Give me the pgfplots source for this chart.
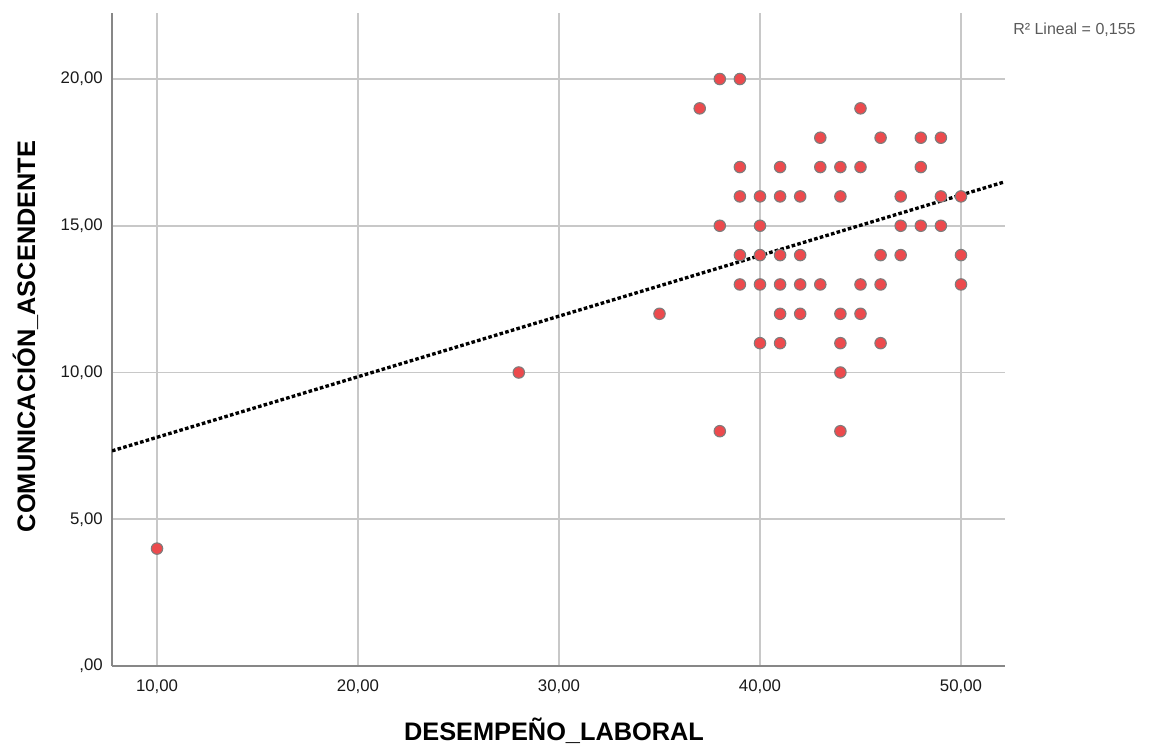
\documentclass[border=0pt]{standalone}
\usepackage{pgfplots}
\pgfplotsset{compat=1.18}
\usepackage{pgfplotstable}
\usepackage{fontspec}
\setmainfont{Liberation Sans}
\definecolor{ptred}{RGB}{236,74,77}
\definecolor{ptedge}{RGB}{125,125,125}
\definecolor{gridc}{RGB}{200,200,200}
\definecolor{axc}{RGB}{135,135,135}
\definecolor{rtxt}{RGB}{90,90,90}

\pgfplotstableread{
x y
10 4
28 10
35 12
37 19
38 20
38 15
38 8
39 20
39 17
39 16
39 14
39 13
40 16
40 15
40 14
40 13
40 11
41 17
41 16
41 14
41 13
41 12
41 11
42 16
42 14
42 13
42 12
43 18
43 17
43 13
44 17
44 16
44 12
44 11
44 10
44 8
45 19
45 17
45 13
45 12
46 18
46 14
46 13
46 11
47 16
47 15
47 14
48 18
48 17
48 15
49 18
49 16
49 15
50 16
50 14
50 13
}\pts

\pgfplotstableread{
x y
7.76 7.33
52.19 16.50
}\fitline

\begin{document}
\begin{tikzpicture}[x=1pt,y=1pt]
\path[use as bounding box] (0,0) rectangle (862.5,558.75);
\begin{axis}[
  at={(84pt,59.25pt)}, anchor=south west,
  scale only axis, width=669.75pt, height=489.75pt,
  xmin=7.76, xmax=52.19, ymin=0, ymax=22.25,
  axis x line*=bottom, axis y line*=left,
  axis line style={draw=axc, line width=1.4pt, -},
  xtick={10,20,30,40,50},
  xticklabels={{10,00},{20,00},{30,00},{40,00},{50,00}},
  ytick={0,5,10,15,20},
  yticklabels={{,00},{5,00},{10,00},{15,00},{20,00}},
  major tick length=0pt,
  grid=major,
  major grid style={draw=gridc, line width=1.2pt},
  tick label style={font=\fontsize{12.6}{14}\selectfont, text=black!90},
  xticklabel style={anchor=base, yshift=-19.5pt, inner sep=0pt},
  yticklabel style={anchor=east, xshift=-6.75pt, inner sep=0pt},
]
\addplot[only marks, mark=*, mark size=4.3pt,
  mark options={fill=ptred, draw=ptedge, line width=0.8pt}] table {\pts};
\addplot[black, line width=2.5pt, dash pattern=on 2.7pt off 1.7pt] table {\fitline};
\end{axis}
\node[anchor=base, font=\bfseries\fontsize{19}{21}\selectfont] at (415.5,3.6) {DESEMPEÑO\_LABORAL};
\node[anchor=base, rotate=90, font=\bfseries\fontsize{19}{21}\selectfont] at (26.25,306.4) {COMUNICACIÓN\_ASCENDENTE};
\node[anchor=base west, inner sep=0pt, text=rtxt, font=\fontsize{12}{14}\selectfont] at (759.75,532.5) {R² Lineal = 0,155};
\end{tikzpicture}
\end{document}
